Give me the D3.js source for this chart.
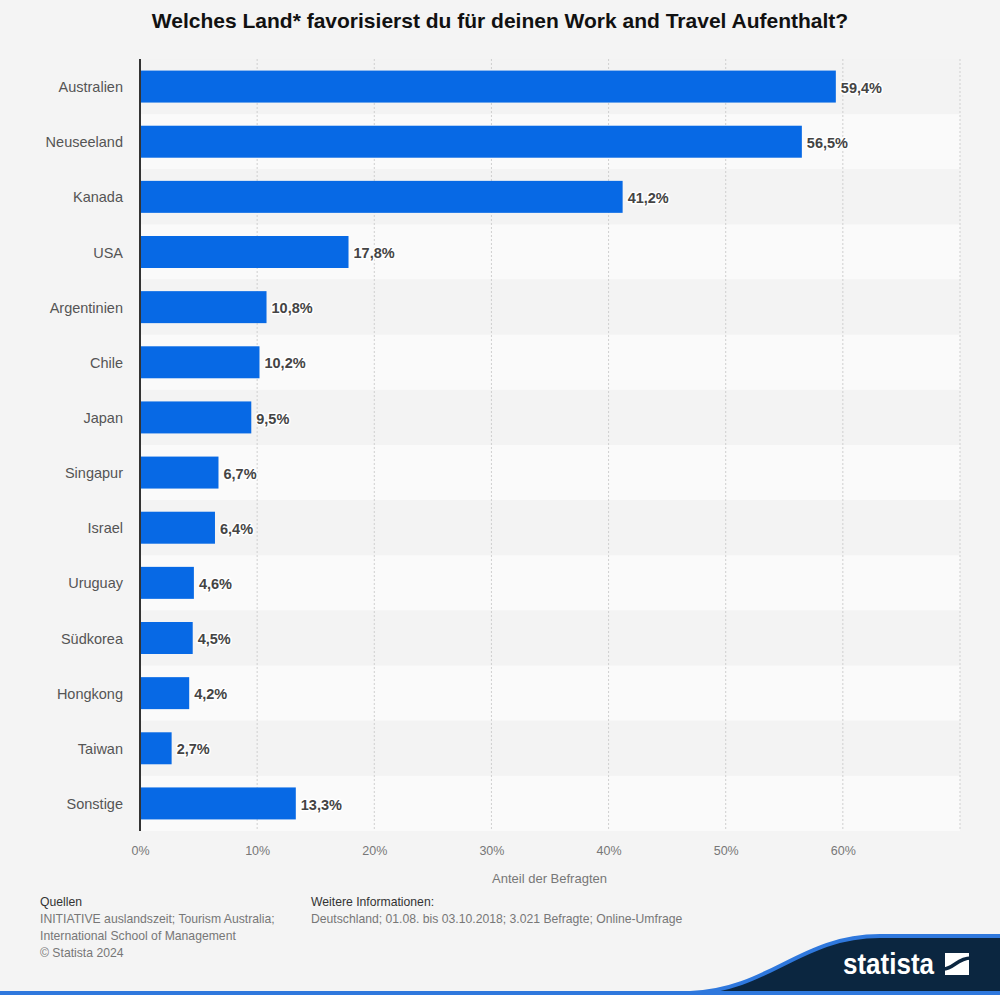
<!DOCTYPE html>
<html><head><meta charset="utf-8">
<script src="https://cdn.jsdelivr.net/npm/d3@7"></script>
<style>
body{margin:0;background:#f4f4f4;}
svg{display:block;font-family:"Liberation Sans",Arial,sans-serif;}
</style></head>
<body>
<svg id="c" width="1000" height="995"></svg>
<script>
const categories = ["Australien","Neuseeland","Kanada","USA","Argentinien","Chile","Japan","Singapur","Israel","Uruguay","Südkorea","Hongkong","Taiwan","Sonstige"];
const values = [59.4,56.5,41.2,17.8,10.8,10.2,9.5,6.7,6.4,4.6,4.5,4.2,2.7,13.3];
const ticks = [0,10,20,30,40,50,60,70];
const title = "Welches Land* favorisierst du für deinen Work and Travel Aufenthalt?";
const axisTitle = "Anteil der Befragten";
const sourceLines = ["INITIATIVE auslandszeit; Tourism Australia;","International School of Management","© Statista 2024"];
const infoLines = ["Deutschland; 01.08. bis 03.10.2018; 3.021 Befragte; Online-Umfrage"];

const svg = d3.select("#c");
const L=140, R=960, T=59, B=831;
const x = d3.scaleLinear().domain([0,70]).range([L,R]);
const y = d3.scaleBand().domain(categories).range([T,B]).paddingInner(0.42).paddingOuter(0.21);
const step = y.step();
const fmt = v => d3.format(".1f")(v).replace(".",",")+"%";

svg.append("rect").attr("width",1000).attr("height",995).attr("fill","#f4f4f4");

// stripes
svg.append("g").selectAll("rect").data(categories).join("rect")
  .attr("x",L).attr("width",R-L)
  .attr("y",d=>y(d)-step*0.21).attr("height",step)
  .attr("fill",(d,i)=> i%2? "#fafafa":"#f3f3f3");

// gridlines
svg.append("g").selectAll("line").data(ticks.slice(1)).join("line")
  .attr("x1",d=>x(d)).attr("x2",d=>x(d)).attr("y1",T).attr("y2",B)
  .attr("stroke","#cfcfcf").attr("stroke-width",1).attr("stroke-dasharray","2,2");

// bars
svg.append("g").selectAll("rect").data(values).join("rect")
  .attr("x",x(0)).attr("y",(d,i)=>y(categories[i]))
  .attr("width",d=>x(d)-x(0)).attr("height",y.bandwidth())
  .attr("fill","#0769e5");

// value labels
svg.append("g").selectAll("text").data(values).join("text")
  .attr("x",d=>x(d)+5).attr("y",(d,i)=>y(categories[i])+y.bandwidth()/2+1)
  .attr("dy","0.35em").attr("font-size",14.5).attr("font-weight","bold")
  .attr("fill","#444").attr("stroke","#fff").attr("stroke-width",3).attr("paint-order","stroke")
  .attr("stroke-linejoin","round").text(fmt);

// y axis
const ya = svg.append("g").attr("transform",`translate(${L},1)`).call(d3.axisLeft(y).tickSize(0).tickPadding(17));
ya.select(".domain").remove();
ya.selectAll("text").attr("font-size",14.5).attr("fill","#555").attr("font-family","Liberation Sans, Arial, sans-serif");
svg.append("line").attr("x1",L).attr("x2",L).attr("y1",T).attr("y2",B).attr("stroke","#333").attr("stroke-width",2);

// x axis
const xa = svg.append("g").attr("transform",`translate(0,${B})`)
  .call(d3.axisBottom(x).tickValues(ticks.slice(0,7)).tickSize(0).tickPadding(15).tickFormat(d=>d+"%"));
xa.select(".domain").remove();
xa.selectAll("text").attr("font-size",12.5).attr("fill","#777").attr("font-family","Liberation Sans, Arial, sans-serif");

svg.append("text").attr("x",549.5).attr("y",883).attr("text-anchor","middle")
  .attr("font-size",13).attr("fill","#777").text(axisTitle);

// title
svg.append("text").attr("x",500).attr("y",28).attr("text-anchor","middle")
  .attr("font-size",21).attr("font-weight","bold").attr("fill","#111").text(title);

// footer
svg.append("text").attr("x",40).attr("y",906).attr("font-size",12.2).attr("fill","#333").text("Quellen");
svg.append("g").selectAll("text").data(sourceLines).join("text")
  .attr("x",40).attr("y",(d,i)=>923+i*17).attr("font-size",12.2).attr("fill","#777").text(d=>d);
svg.append("text").attr("x",311).attr("y",906).attr("font-size",12.2).attr("fill","#333").text("Weitere Informationen:");
svg.append("g").selectAll("text").data(infoLines).join("text")
  .attr("x",311).attr("y",(d,i)=>923+i*17).attr("font-size",12.2).attr("fill","#777").text(d=>d);

// bottom banner
svg.append("path").attr("d","M690,993 C770,990 800,936 880,936 L1000,936 L1000,993 Z").attr("fill","#0b2640");
svg.append("path").attr("d","M690,993 C770,990 800,936 880,936 L1000,936").attr("fill","none").attr("stroke","#2f78dd").attr("stroke-width",4);
svg.append("rect").attr("x",0).attr("y",991).attr("width",1000).attr("height",4).attr("fill","#2f78dd");
svg.append("text").attr("x",843).attr("y",974).attr("font-size",30).attr("font-weight","bold").attr("fill","#fff")
  .attr("textLength",91).attr("lengthAdjust","spacingAndGlyphs").text("statista");
svg.append("rect").attr("x",945).attr("y",953).attr("width",24).attr("height",22).attr("fill","#fff");
svg.append("path").attr("d","M943,969 C954,969 957,958 971,958").attr("fill","none").attr("stroke","#0b2640").attr("stroke-width",3.5);
</script>
</body></html>
